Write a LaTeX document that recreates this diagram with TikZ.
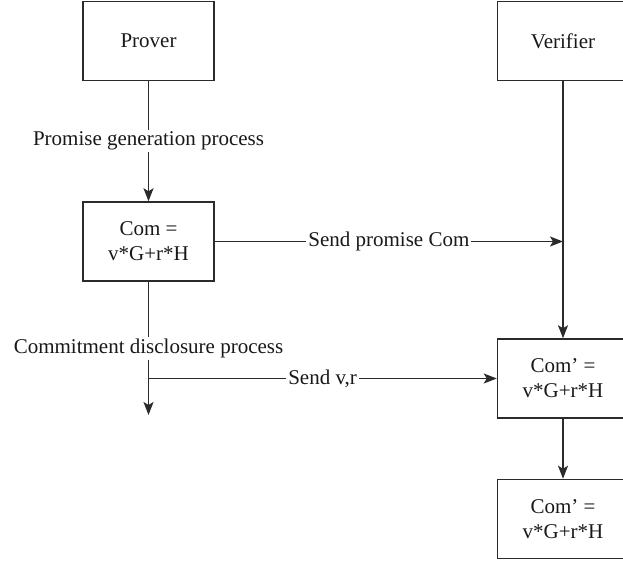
\documentclass[tikz,border=0pt]{standalone}
\usepackage{fontspec}
\setmainfont{Liberation Serif}
\usetikzlibrary{arrows.meta}
\definecolor{linecol}{HTML}{2B2B2B}
\begin{document}
\begin{tikzpicture}[x=1pt,y=-1pt,
  every node/.style={font=\fontsize{21}{25}\selectfont, text=black!90},
  box/.style={draw=linecol, line width=1.5pt, minimum width=131pt, minimum height=79pt, align=center, inner sep=0pt},
  conn/.style={draw=linecol, line width=1.5pt},
  arr/.style={conn, -{Stealth[length=13pt,width=10pt,inset=3pt]}},
  lbl/.style={fill=white, inner sep=2pt}]
\useasboundingbox (0,0) rectangle (623,561);
\node[box] (prover) at (148.5,41) {Prover};
\node[box] (verifier) at (563,41) {Verifier};
\node[box] (com) at (148.5,241.5) {Com =\\ v*G+r*H};
\node[box] (comp) at (563,378.5) {Com’ =\\ v*G+r*H};
\node[box] (fin) at (563,519) {Com’ =\\ v*G+r*H};
\coordinate (vrecv) at (verifier.south |- com.east);
\coordinate (psend) at (com.south |- comp.west);
\coordinate (pend) at (148.5,415);
\draw[arr] (prover) -- node[lbl]{Promise generation process} (com);
\draw[arr] (com) -- node[lbl]{Send promise Com} (vrecv);
\draw[arr] (verifier) -- (comp);
\draw[arr] (com) -- node[lbl]{Commitment disclosure process} (pend);
\draw[arr] (psend) -- node[lbl]{Send v,r} (comp);
\draw[arr] (comp) -- (fin);
\end{tikzpicture}
\end{document}
